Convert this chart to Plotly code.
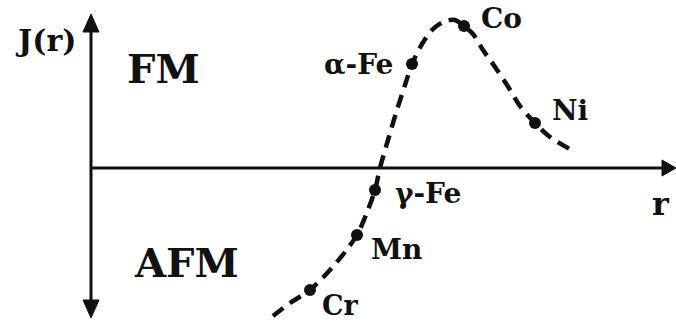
import plotly.graph_objects as go

# Bethe-Slater curve: exchange integral J(r) versus interatomic distance r
r_curve = [273, 290, 310, 330, 345, 357, 366, 375, 380, 388, 396, 405, 412,
           422, 432, 445, 455, 464, 473, 483, 495, 507, 520, 535, 550, 575]
j_curve = [-148, -135, -122, -102, -84, -67, -47, -22, 0, 28, 55, 83, 104,
           124, 138, 147, 148, 142, 134, 118, 101, 83, 62, 45, 31, 16]

elements = ["Cr", "Mn", "\u03b3-Fe", "\u03b1-Fe", "Co", "Ni"]
r_elem = [310, 357, 375, 412, 464, 535]
j_elem = [-122, -67, -22, 104, 142, 45]

FONT = "DejaVu Serif"
INK = "#111111"

fig = go.Figure()

fig.add_trace(go.Scatter(
    x=r_curve, y=j_curve, mode="lines",
    line=dict(color=INK, width=4.5, dash="13px,8px", shape="spline", smoothing=0.8),
    hoverinfo="skip",
))
fig.add_trace(go.Scatter(
    x=r_elem, y=j_elem, mode="markers", text=elements,
    marker=dict(color=INK, size=12),
))

# axes with arrowheads
ax_x = 91
top, bottom, right = 154, -150, 676
head = 18
half = 8
shapes = [
    dict(type="line", x0=ax_x, x1=ax_x, y0=bottom + head - 2, y1=top - head + 2,
         line=dict(color=INK, width=3)),
    dict(type="line", x0=ax_x, x1=right - head + 4, y0=0, y1=0,
         line=dict(color=INK, width=3)),
    dict(type="path", path=f"M {ax_x-half} {top-head} L {ax_x} {top} L {ax_x+half} {top-head} Z",
         fillcolor=INK, line=dict(color=INK, width=1)),
    dict(type="path", path=f"M {ax_x-half} {bottom+head} L {ax_x} {bottom} L {ax_x+half} {bottom+head} Z",
         fillcolor=INK, line=dict(color=INK, width=1)),
    dict(type="path", path=f"M {right-head+4} {half} L {right} 0 L {right-head+4} {-half} Z",
         fillcolor=INK, line=dict(color=INK, width=1)),
]

def label(text, x, y, size, xanchor="center", yanchor="middle"):
    return dict(text=text, x=x, y=y, xref="x", yref="y", showarrow=False,
                xanchor=xanchor, yanchor=yanchor,
                font=dict(family=FONT, size=size, color=INK, weight="bold"))

annotations = [
    label("J(r)", 45, 128, 30),
    label("FM", 163, 100, 40),
    label("AFM", 186, -94, 40),
    label("r", 661, -36, 32),
    label("\u03b1-Fe", 395, 104, 28, xanchor="right"),
    label("Co", 479, 150, 28, xanchor="left"),
    label("Ni", 550, 58, 28, xanchor="left"),
    label("\u03b3-Fe", 393, -25, 28, xanchor="left"),
    label("Mn", 369, -81, 28, xanchor="left"),
    label("Cr", 320, -137, 27, xanchor="left"),
]

fig.update_layout(
    width=676, height=326,
    margin=dict(l=0, r=0, t=0, b=0),
    paper_bgcolor="white", plot_bgcolor="white",
    showlegend=False,
    xaxis=dict(range=[0, 676], visible=False, fixedrange=True),
    yaxis=dict(range=[-158, 168], visible=False, fixedrange=True),
    shapes=shapes,
    annotations=annotations,
)

fig.write_html("out.html")
